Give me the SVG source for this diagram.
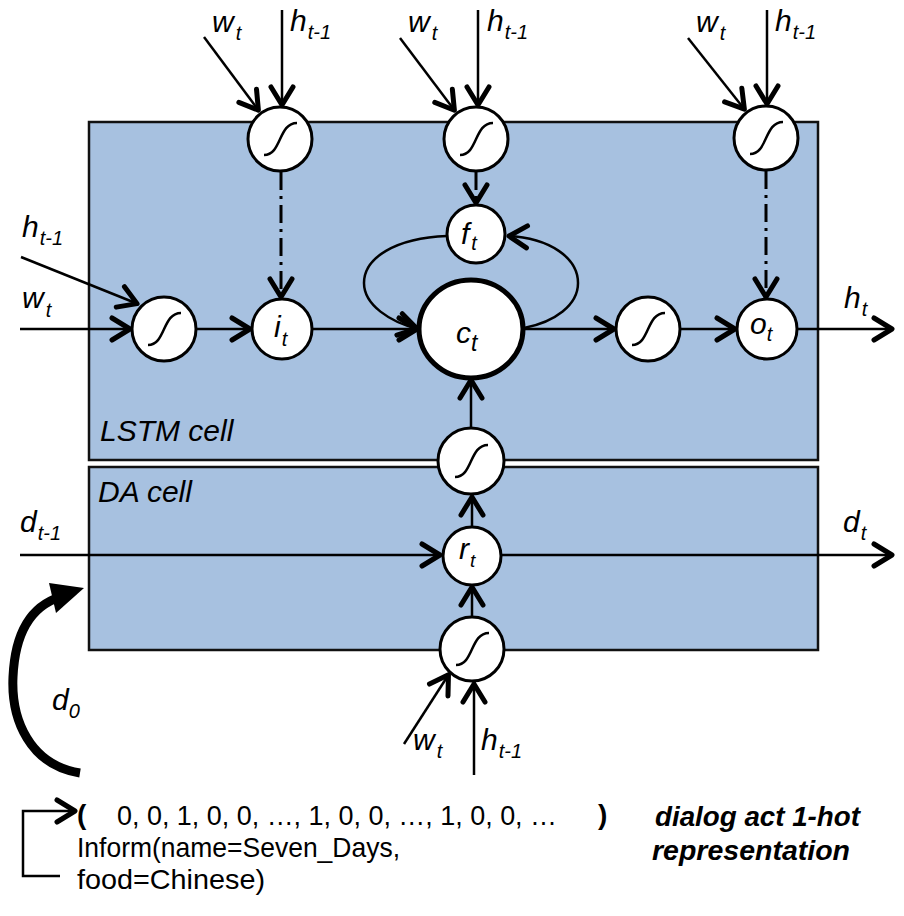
<svg xmlns="http://www.w3.org/2000/svg" xmlns:xlink="http://www.w3.org/1999/xlink" width="904" height="916" viewBox="0 0 904 916">
<style>
.cell{fill:#A7C1E0;stroke:#111;stroke-width:2.5}
.node{fill:#fff;stroke:#000;stroke-width:3}
.big{fill:#fff;stroke:#000;stroke-width:5}
.sig{fill:none;stroke:#000;stroke-width:2.5}
.ln{fill:none;stroke:#000;stroke-width:2.5;marker-end:url(#arr)}
.dd{fill:none;stroke:#000;stroke-width:3;stroke-dasharray:18 6 3 6;marker-end:url(#arr)}
.lab{font-family:"Liberation Sans",Arial,sans-serif;font-style:italic;font-size:30px;fill:#000}
.sub{font-size:20px}
.txt{font-family:"Liberation Sans",Arial,sans-serif;font-size:28px;fill:#000}
.bi{font-family:"Liberation Sans",Arial,sans-serif;font-size:27px;font-weight:bold;font-style:italic;fill:#000}
</style>
<defs>
<marker id="arr" markerUnits="userSpaceOnUse" viewBox="0 0 26 28" markerWidth="26" markerHeight="28" refX="23" refY="14" orient="auto">
<path d="M4,3 L22,14 L4,25" fill="none" stroke="#000" stroke-width="5" stroke-linecap="round" stroke-linejoin="round"/>
</marker>
<path id="sg" class="sig" d="M-16,16 C2,16 -2,-16 17,-16"/>
</defs>

<g id="lstm-cell">
<rect class="cell" x="89" y="122" width="729" height="338"/>
<text class="lab" x="100" y="441" font-size="27">LSTM cell</text>
</g>
<g id="da-cell">
<rect class="cell" x="89" y="467" width="729" height="183"/>
<text class="lab" x="98" y="502" font-size="27">DA cell</text>
</g>

<g id="connectors">
<line class="ln" x1="282" y1="10" x2="282" y2="106"/>
<line class="ln" x1="204" y1="37" x2="259" y2="111"/>
<line class="ln" x1="478" y1="10" x2="478" y2="106"/>
<line class="ln" x1="400" y1="38" x2="455" y2="111"/>
<line class="ln" x1="767" y1="10" x2="767" y2="105"/>
<line class="ln" x1="688" y1="38" x2="745" y2="110"/>
<line class="dd" x1="281" y1="172" x2="281" y2="298"/>
<line class="dd" x1="476" y1="172" x2="476" y2="204"/>
<line class="dd" x1="766" y1="171" x2="766" y2="298"/>
<line class="ln" x1="21" y1="257" x2="138" y2="304"/>
<line class="ln" x1="20" y1="329" x2="131" y2="329"/>
<line class="ln" x1="196" y1="329" x2="251" y2="329"/>
<line class="ln" x1="312" y1="329" x2="418" y2="329"/>
<line class="ln" x1="523" y1="329" x2="615" y2="329"/>
<line class="ln" x1="680" y1="329" x2="736" y2="329"/>
<line class="ln" x1="797" y1="329" x2="893" y2="329"/>
<path class="ln" d="M447,236 C395,238 364,258 364,283 C364,305 390,322 418,329"/>
<path class="ln" d="M524,328 C555,322 578,305 578,283 C578,258 550,238 508,236"/>
<line class="ln" x1="471" y1="428" x2="471" y2="379"/>
<line class="ln" x1="472" y1="527" x2="472" y2="496"/>
<line class="ln" x1="472" y1="617" x2="472" y2="586"/>
<line class="ln" x1="20" y1="555" x2="441" y2="555"/>
<line class="ln" x1="502" y1="555" x2="893" y2="555"/>
<line class="ln" x1="404" y1="744" x2="449" y2="674"/>
<line class="ln" x1="474" y1="775" x2="474" y2="683"/>
<path d="M80,773 C30,765 11,720 13,677 C15,632 32,606 60,597" fill="none" stroke="#000" stroke-width="9"/>
<polygon points="49,583 84,588 56,613" fill="#000"/>
<path class="ln" d="M60,876 H23 V811 H76"/>
</g>

<g id="gate-i-in">
<circle class="node" cx="280" cy="139" r="32"/>
<use xlink:href="#sg" x="280" y="139"/>
</g>
<g id="gate-f-in">
<circle class="node" cx="476" cy="139" r="32"/>
<use xlink:href="#sg" x="476" y="139"/>
</g>
<g id="gate-o-in">
<circle class="node" cx="766" cy="138" r="32"/>
<use xlink:href="#sg" x="766" y="138"/>
</g>
<g id="input-sig">
<circle class="node" cx="164" cy="329" r="32"/>
<use xlink:href="#sg" x="164" y="329"/>
</g>
<g id="i-t">
<circle class="node" cx="282" cy="329" r="30"/>
<text class="lab" x="274" y="337">i<tspan class="sub" dx="1" dy="9">t</tspan></text>
</g>
<g id="f-t">
<circle class="node" cx="476" cy="234" r="29"/>
<text class="lab" x="461" y="244">f<tspan class="sub" dx="2" dy="6">t</tspan></text>
</g>
<g id="c-t">
<ellipse class="big" cx="471" cy="329" rx="52" ry="49"/>
<text class="lab" x="456" y="343" font-size="34">c<tspan font-size="23" dx="0" dy="8">t</tspan></text>
</g>
<g id="out-sig">
<circle class="node" cx="648" cy="329" r="32"/>
<use xlink:href="#sg" x="648" y="329"/>
</g>
<g id="o-t">
<circle class="node" cx="767" cy="329" r="30"/>
<text class="lab" x="750" y="334">o<tspan class="sub" dx="0" dy="7">t</tspan></text>
</g>
<g id="da-sig">
<circle class="node" cx="471" cy="461" r="33"/>
<use xlink:href="#sg" x="471" y="461"/>
</g>
<g id="r-t">
<circle class="node" cx="472" cy="556" r="29"/>
<text class="lab" x="459" y="559" font-size="26">r<tspan font-size="19" dx="1" dy="8">t</tspan></text>
</g>
<g id="r-sig">
<circle class="node" cx="472" cy="649" r="32"/>
<use xlink:href="#sg" x="472" y="649"/>
</g>

<g id="labels">
<text class="lab" x="212" y="32">w<tspan class="sub" dx="2" dy="8">t</tspan></text>
<text class="lab" x="290" y="31">h<tspan class="sub" dx="1" dy="8">t-1</tspan></text>
<text class="lab" x="408" y="32">w<tspan class="sub" dx="2" dy="8">t</tspan></text>
<text class="lab" x="487" y="31">h<tspan class="sub" dx="1" dy="8">t-1</tspan></text>
<text class="lab" x="696" y="32">w<tspan class="sub" dx="2" dy="8">t</tspan></text>
<text class="lab" x="775" y="31">h<tspan class="sub" dx="1" dy="8">t-1</tspan></text>
<text class="lab" x="22" y="237">h<tspan class="sub" dx="1" dy="8">t-1</tspan></text>
<text class="lab" x="22" y="308">w<tspan class="sub" dx="2" dy="9">t</tspan></text>
<text class="lab" x="844" y="308">h<tspan class="sub" dx="1" dy="8">t</tspan></text>
<text class="lab" x="20" y="532">d<tspan class="sub" dx="1" dy="8">t-1</tspan></text>
<text class="lab" x="843" y="532">d<tspan class="sub" dx="1" dy="8">t</tspan></text>
<text class="lab" x="52" y="710">d<tspan class="sub" dx="0" dy="8">0</tspan></text>
<text class="lab" x="413" y="750">w<tspan class="sub" dx="2" dy="8">t</tspan></text>
<text class="lab" x="481" y="750">h<tspan class="sub" dx="1" dy="8">t-1</tspan></text>
</g>

<g id="da-vector">
<text class="txt" x="77" y="824" font-weight="bold" font-size="26">(</text>
<text class="txt" x="117" y="825" textLength="440" lengthAdjust="spacingAndGlyphs">0, 0, 1, 0, 0, …, 1, 0, 0, …, 1, 0, 0, …</text>
<text class="txt" x="598" y="824" font-weight="bold" font-size="26">)</text>
<text class="txt" x="77" y="857" textLength="323" lengthAdjust="spacingAndGlyphs">Inform(name=Seven_Days,</text>
<text class="txt" x="77" y="889" textLength="188" lengthAdjust="spacingAndGlyphs">food=Chinese)</text>
<text class="bi" x="655" y="826" textLength="205" lengthAdjust="spacingAndGlyphs">dialog act 1-hot</text>
<text class="bi" x="652" y="860" textLength="198" lengthAdjust="spacingAndGlyphs">representation</text>
</g>
</svg>
